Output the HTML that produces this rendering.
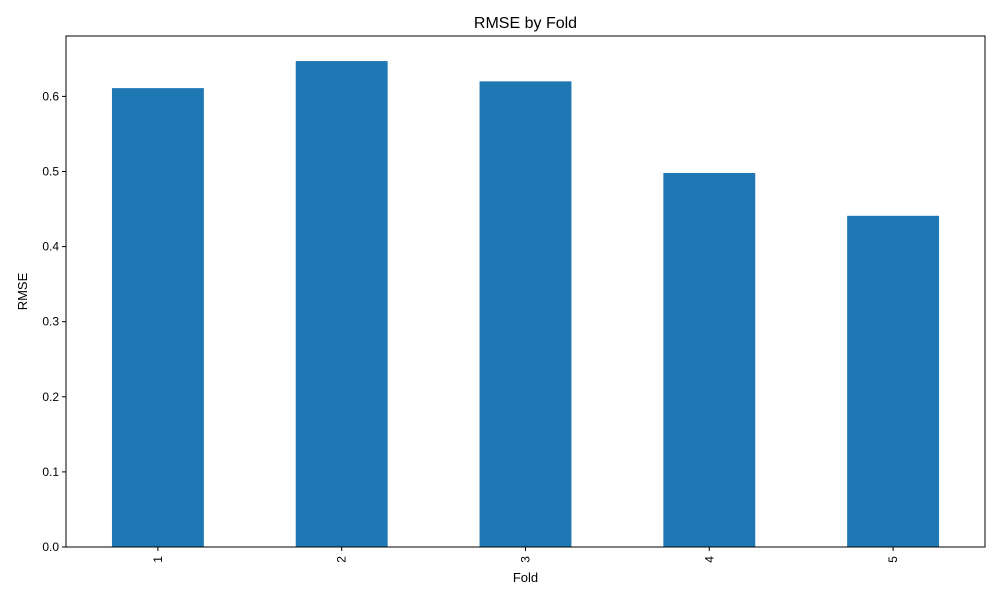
<!DOCTYPE html>
<html><head><meta charset="utf-8"><style>body{margin:0;background:#fff}svg{font-family:"Liberation Sans",sans-serif}</style></head>
<body>
<svg id="chart" width="1000" height="600" xmlns="http://www.w3.org/2000/svg">
<rect width="1000" height="600" fill="#fff"/>
<text x="525.5" y="28" text-anchor="middle" font-size="16">RMSE by Fold</text>
<text x="525.5" y="582" text-anchor="middle" font-size="13">Fold</text>
<text transform="translate(27,291.5) rotate(-90)" text-anchor="middle" font-size="13">RMSE</text>
<g id="bars"></g><g id="ticks"></g>
<rect x="66" y="36" width="919" height="511" fill="none" stroke="#000" stroke-width="1"/>
</svg>
<script>
const categories = ["1","2","3","4","5"];
const values = [0.611, 0.647, 0.620, 0.498, 0.441];
const yTicks = [0, 0.1, 0.2, 0.3, 0.4, 0.5, 0.6];
const yTickLabels = ["0.0","0.1","0.2","0.3","0.4","0.5","0.6"];
const L=66,R=985,T=36,B=547,yMax=0.6804;
const ns="http://www.w3.org/2000/svg";
const y=v=>B-(v/yMax)*(B-T);
const step=(R-L)/categories.length;
const x=i=>L+step*(i+0.5);
const bars=document.getElementById('bars'),ticks=document.getElementById('ticks');
function mk(t,a,p){const e=document.createElementNS(ns,t);for(const k in a)e.setAttribute(k,a[k]);p.appendChild(e);return e;}
values.forEach((v,i)=>{
 const r=mk('rect',{x:x(i)-step*0.25,y:y(v),width:step*0.5,height:B-y(v),fill:'#1f77b4'},bars);
 
 
 const tl=mk('line',{x1:x(i),x2:x(i),y1:B,y2:B+4,stroke:'#000'},ticks);
 
 
 const tx=mk('text',{transform:`translate(${x(i)+4},${B+9}) rotate(-90)`,'text-anchor':'end','font-size':12},ticks);
 tx.textContent=categories[i];
 
 
});
yTicks.forEach((v,i)=>{
 const tl=mk('line',{x1:L-4,x2:L,y1:y(v),y2:y(v),stroke:'#000'},ticks);
 
 
 const tx=mk('text',{x:L-7,y:y(v)+4,'text-anchor':'end','font-size':12},ticks);
 tx.textContent=yTickLabels[i];
 
 
});
</script>
</body></html>
